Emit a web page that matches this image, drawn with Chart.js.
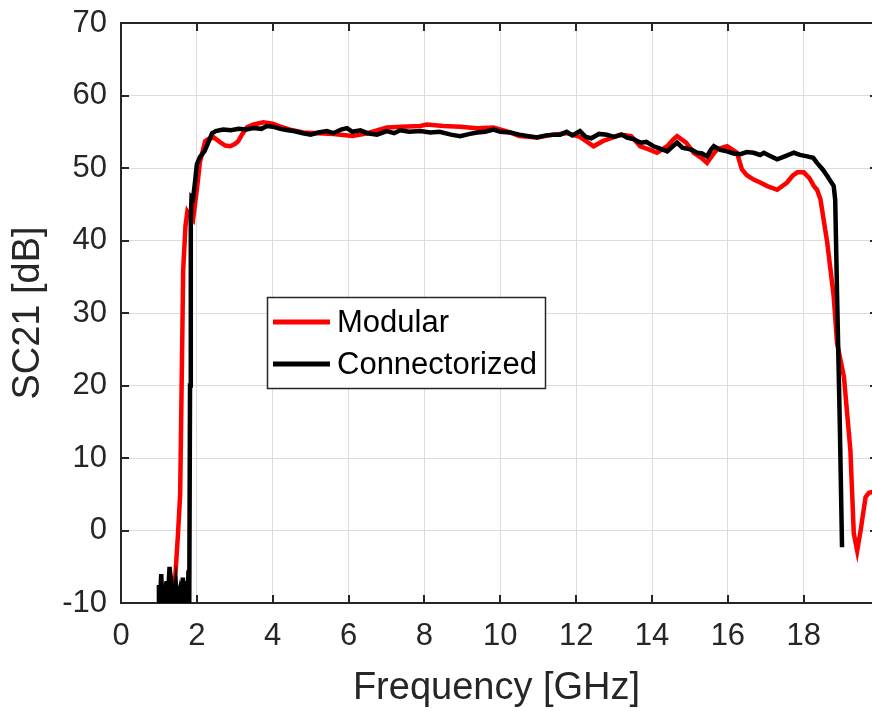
<!DOCTYPE html>
<html>
<head>
<meta charset="utf-8">
<script src="https://cdn.jsdelivr.net/npm/chart.js@4/dist/chart.umd.min.js"></script>
<style>
  html, body { margin: 0; padding: 0; background: #ffffff; }
  #c { display: block; }
</style>
</head>
<body>
<canvas id="c" width="872" height="711"></canvas>
<script>
// ---- Data ----
const seriesNames = ["Modular", "Connectorized"];

const modularFreq = [1.30, 1.42, 1.50, 1.56, 1.64, 1.70, 1.75, 1.80, 1.90, 2.00, 2.08, 2.22, 2.30, 2.45, 2.60, 2.75, 2.88, 3.00, 3.09, 3.20, 3.32, 3.50, 3.75, 4.00, 4.20, 4.46, 4.80, 5.20, 5.60, 6.10, 6.50, 7.01, 7.40, 7.89, 8.06, 8.50, 8.94, 9.39, 9.82, 10.26, 10.50, 10.97, 11.40, 11.75, 12.10, 12.46, 12.70, 13.17, 13.45, 13.69, 13.90, 14.13, 14.40, 14.55, 14.66, 14.90, 15.10, 15.30, 15.45, 15.60, 15.72, 15.98, 16.24, 16.37, 16.50, 16.68, 16.85, 17.04, 17.30, 17.56, 17.70, 17.83, 18.00, 18.15, 18.27, 18.35, 18.44, 18.62, 18.79, 18.88, 19.06, 19.23, 19.32, 19.41, 19.50, 19.63, 19.72, 19.81];
const modularDb   = [-10, -7.3, -0.7, 5, 36, 42, 44, 43.6, 42.9, 47, 50.8, 53.7, 54.0, 54.2, 53.6, 53.1, 53.0, 53.3, 53.7, 54.7, 55.6, 56.0, 56.3, 56.1, 55.7, 55.3, 54.9, 54.8, 54.7, 54.4, 54.8, 55.6, 55.7, 55.8, 56.0, 55.8, 55.7, 55.5, 55.6, 54.9, 54.4, 54.2, 54.6, 54.8, 54.3, 53.0, 53.7, 54.6, 54.4, 53.0, 52.6, 52.1, 53.0, 53.9, 54.4, 53.5, 52.1, 51.4, 50.7, 51.8, 52.6, 53.0, 52.1, 49.8, 49.0, 48.4, 48.0, 47.5, 47.0, 48.0, 48.9, 49.4, 49.4, 48.6, 47.5, 47.0, 45.7, 39.7, 32.3, 25.8, 21.2, 11.1, -0.4, -2.8, 0, 4.6, 5.2, 5.3];

const connFreq = [0.98, 1.00, 1.03, 1.06, 1.09, 1.12, 1.15, 1.20, 1.23, 1.28, 1.31, 1.35, 1.40, 1.45, 1.50, 1.55, 1.60, 1.63, 1.68, 1.72, 1.75, 1.78, 1.80, 1.82, 1.84, 1.86, 1.90, 1.95, 2.00, 2.08, 2.20, 2.30, 2.40, 2.50, 2.60, 2.70, 2.90, 3.10, 3.30, 3.50, 3.70, 3.85, 4.00, 4.20, 4.40, 4.55, 4.80, 5.00, 5.20, 5.43, 5.60, 5.80, 5.96, 6.10, 6.31, 6.50, 6.75, 7.01, 7.20, 7.36, 7.60, 7.89, 8.15, 8.40, 8.70, 8.94, 9.20, 9.39, 9.60, 9.82, 10.00, 10.26, 10.50, 10.75, 10.97, 11.20, 11.40, 11.58, 11.75, 11.90, 12.10, 12.25, 12.40, 12.60, 12.81, 13.00, 13.20, 13.34, 13.50, 13.69, 13.85, 14.04, 14.20, 14.40, 14.55, 14.66, 14.80, 14.90, 15.05, 15.19, 15.32, 15.45, 15.55, 15.63, 15.80, 15.98, 16.15, 16.33, 16.50, 16.68, 16.85, 16.95, 17.10, 17.30, 17.50, 17.74, 17.90, 18.09, 18.25, 18.35, 18.50, 18.62, 18.79, 18.83, 18.88, 18.95, 19.01];
const connDb   = [-10, -7.5, -10, -6, -10, -8, -10, -7, -10, -5, -10, -8, -10, -7.5, -10, -8.5, -10, -6.5, -10, -7, -10, -5.5, -10, 20, 43, 46, 45.8, 48, 50.5, 51.5, 52.3, 53.5, 54.8, 55.1, 55.2, 55.3, 55.2, 55.4, 55.3, 55.5, 55.4, 55.8, 55.7, 55.4, 55.2, 55.1, 54.8, 54.6, 54.9, 55.1, 54.8, 55.3, 55.5, 55.0, 55.2, 54.8, 54.6, 55.1, 54.8, 55.2, 55.0, 55.1, 54.9, 55.0, 54.6, 54.4, 54.7, 54.9, 55.0, 55.3, 55.0, 54.9, 54.6, 54.4, 54.2, 54.5, 54.6, 54.6, 55.0, 54.5, 55.1, 54.3, 54.1, 54.7, 54.6, 54.3, 54.6, 54.2, 54.0, 53.5, 53.6, 53.0, 52.7, 52.3, 53.0, 53.5, 52.8, 52.7, 52.5, 52.1, 52.0, 51.6, 52.5, 53.0, 52.5, 52.3, 52.0, 51.9, 52.2, 52.1, 51.8, 52.1, 51.7, 51.2, 51.6, 52.1, 51.8, 51.6, 51.4, 50.7, 49.8, 48.9, 47.5, 45.6, 32.3, 15, -2.3];

const xTickValues = [0, 2, 4, 6, 8, 10, 12, 14, 16, 18];
const yTickValues = [-10, 0, 10, 20, 30, 40, 50, 60, 70];

const seriesColors = ["#ff0000", "#000000"];

// ---- Build chart ----
const FONT = "'Liberation Sans', Arial, Helvetica, sans-serif";
const AXIS_DARK = "#262626";

function toPoints(xs, ys) { return xs.map((x, i) => ({ x: x, y: ys[i] })); }

const frame = {
  id: 'frame',
  afterDatasetsDraw(chart) {
    const ctx = chart.ctx;
    const a = chart.chartArea;
    const xs = chart.scales.x, ys = chart.scales.y;
    const L = 8;
    ctx.save();
    ctx.strokeStyle = AXIS_DARK;
    ctx.lineWidth = 2;
    ctx.beginPath();
    ctx.moveTo(a.left - 1, a.top);
    ctx.lineTo(a.right, a.top);
    xTickValues.forEach(v => {
      if (v === 0) return;
      const px = Math.round(xs.getPixelForValue(v));
      ctx.moveTo(px, a.bottom); ctx.lineTo(px, a.bottom - L);
      ctx.moveTo(px, a.top); ctx.lineTo(px, a.top + L);
    });
    yTickValues.forEach(v => {
      const py = Math.round(ys.getPixelForValue(v));
      if (v === -10 || v === 70) return;
      ctx.moveTo(a.left, py); ctx.lineTo(a.left + L, py);
      ctx.moveTo(a.right, py); ctx.lineTo(a.right - 2, py);
    });
    ctx.stroke();
    ctx.restore();
  },
  afterDraw(chart) {
    const ctx = chart.ctx;
    const bx = 267, by = 297, bw = 278, bh = 91;
    ctx.save();
    ctx.fillStyle = "#ffffff";
    ctx.fillRect(bx, by, bw, bh);
    ctx.strokeStyle = AXIS_DARK;
    ctx.lineWidth = 1.5;
    ctx.strokeRect(bx + 0.5, by + 0.5, bw, bh);
    const rows = [322, 364];
    chart.data.datasets.forEach((ds, i) => {
      const y = rows[i];
      ctx.strokeStyle = ds.borderColor;
      ctx.lineWidth = 5;
      ctx.beginPath();
      ctx.moveTo(273, y); ctx.lineTo(330, y);
      ctx.stroke();
      ctx.fillStyle = "#000000";
      ctx.font = "31px " + FONT;
      ctx.textBaseline = "middle";
      ctx.textAlign = "left";
      ctx.fillText(ds.label, 337, y + 1);
    });
    ctx.restore();
  }
};

new Chart(document.getElementById('c'), {
  type: 'line',
  data: {
    datasets: [
      { label: seriesNames[0], data: toPoints(modularFreq, modularDb), borderColor: seriesColors[0], borderWidth: 4.5, pointRadius: 0, tension: 0, order: 2, fill: false },
      { label: seriesNames[1], data: toPoints(connFreq, connDb), borderColor: seriesColors[1], borderWidth: 4.5, pointRadius: 0, tension: 0, order: 1, fill: false }
    ]
  },
  options: {
    responsive: false,
    animation: false,
    devicePixelRatio: 1,
    layout: { padding: { top: 23, right: 0, left: 0, bottom: 0 } },
    plugins: { legend: { display: false }, tooltip: { enabled: false } },
    scales: {
      x: {
        type: 'linear', min: 0, max: 19.8,
        afterFit(s) { s.height = 108; s.paddingLeft = 0; s.paddingRight = 0; },
        afterBuildTicks(s) { s.ticks = xTickValues.map(v => ({ value: v })); },
        grid: { color: '#dcdcdc', lineWidth: 1, drawTicks: false },
        border: { display: true, color: AXIS_DARK, width: 2 },
        ticks: { color: AXIS_DARK, font: { family: FONT, size: 31 }, padding: 15, maxRotation: 0 },
        title: { display: true, text: 'Frequency [GHz]', color: AXIS_DARK, font: { family: FONT, size: 38, lineHeight: 1.0 }, padding: { top: 0, bottom: 3 } }
      },
      y: {
        type: 'linear', min: -10, max: 70,
        afterFit(s) { s.width = 121; s.paddingTop = 0; s.paddingBottom = 0; },
        afterBuildTicks(s) { s.ticks = yTickValues.map(v => ({ value: v })); },
        grid: { color: '#dcdcdc', lineWidth: 1, drawTicks: false },
        border: { display: true, color: AXIS_DARK, width: 2 },
        ticks: { color: AXIS_DARK, font: { family: FONT, size: 31 }, padding: 14 },
        title: { display: true, text: 'SC21 [dB]', color: AXIS_DARK, font: { family: FONT, size: 38, lineHeight: 1.0 }, padding: { top: 10, bottom: 0 } }
      }
    }
  },
  plugins: [frame]
});
</script>
</body>
</html>
